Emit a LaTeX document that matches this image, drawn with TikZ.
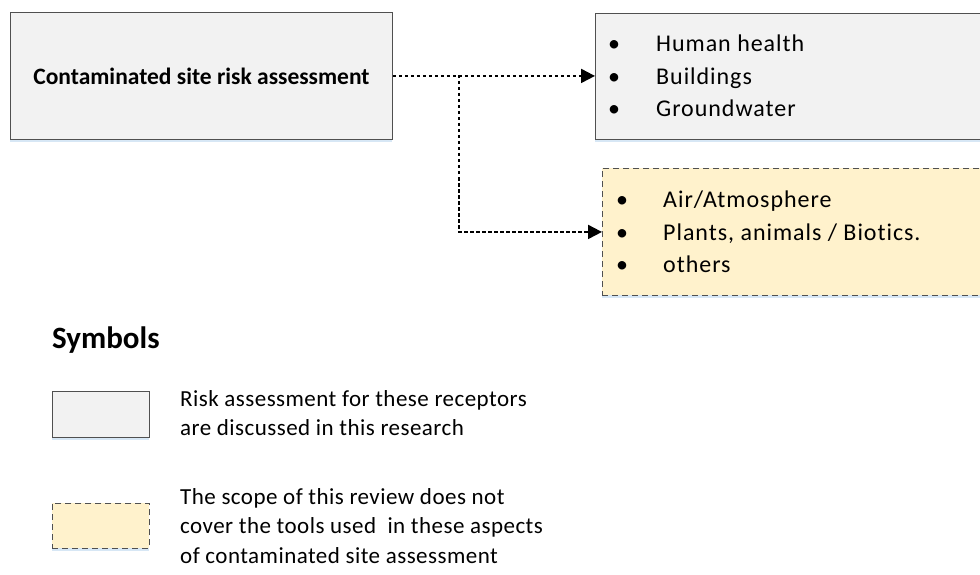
\documentclass[tikz,border=0pt]{standalone}
\usepackage{fontspec}
\setmainfont{Carlito}
\newfontfamily\spacedfont[LetterSpace=4,Ligatures={NoCommon}]{Carlito}
\newfontfamily\legfont[LetterSpace=2,Ligatures={NoCommon}]{Carlito}
\usetikzlibrary{arrows.meta,shadows}
\definecolor{boxgray}{HTML}{F2F2F2}
\definecolor{boxedge}{HTML}{505050}
\definecolor{boxyellow}{HTML}{FFF2CC}
\definecolor{shadowblue}{HTML}{BDD7EE}
\tikzset{
  gbox/.style={draw=boxedge, line width=0.9pt, fill=boxgray, inner sep=0pt,
    drop shadow={shadow xshift=0pt, shadow yshift=-3pt, fill=shadowblue, opacity=0.6}},
  ybox/.style={draw=boxedge, line width=0.9pt, fill=boxyellow, inner sep=0pt,
    dash pattern=on 6pt off 4pt,
    drop shadow={shadow xshift=0pt, shadow yshift=-3pt, fill=shadowblue, opacity=0.6}},
  conn/.style={line width=2pt, dash pattern=on 3.5pt off 2.5pt,
    -{Triangle[length=14pt,width=14pt]}},
  listtxt/.style={anchor=west, inner sep=0pt, align=left,
    font=\fontsize{24}{32.5}\spacedfont},
  legtxt/.style={anchor=north west, inner sep=0pt, align=left,
    font=\fontsize{23}{29.5}\legfont},
}
\begin{document}
\begin{tikzpicture}[x=1pt,y=-1pt]
\useasboundingbox (0,0) rectangle (980,575);
\clip (0,0) rectangle (980,575);
% main box
\node[gbox, minimum width=382pt, minimum height=127pt, anchor=north west] (main) at (10,12) {};
\node[inner sep=0pt, font=\fontsize{23.5}{28}\selectfont\bfseries] (maintxt) at (main.center) {Contaminated site risk assessment};
% right gray box
\node[gbox, minimum width=400pt, minimum height=126pt, anchor=north west] (hr) at (595,13) {};
\node[listtxt] (hrl) at (606,76) {\makebox[50pt][l]{\hspace{2pt}•}Human health\\\makebox[50pt][l]{\hspace{2pt}•}Buildings\\\makebox[50pt][l]{\hspace{2pt}•}Groundwater};
% right yellow box
\node[ybox, minimum width=400pt, minimum height=127pt, anchor=north west] (or) at (602,168) {};
\node[listtxt] (orl) at (614,232) {\makebox[49pt][l]{\hspace{2pt}•}Air/Atmosphere\\\makebox[49pt][l]{\hspace{2pt}•}Plants, animals / Biotics.\\\makebox[49pt][l]{\hspace{2pt}•}others};
% connectors
\coordinate (br) at (459,75);
\draw[conn] (main.east) -- (hr.west |- main.east);
\draw[conn] (br) |- (or.west);
% legend
\node[anchor=west, inner sep=0pt, font=\fontsize{31}{36}\selectfont\bfseries] (sym) at (52,340) {Symbols};
\node[gbox, minimum width=97pt, minimum height=46pt, anchor=north west] (lg1) at (52,391) {};
\node[legtxt] (lt1) at (180,390) {Risk assessment for these receptors\\are discussed in this research};
\node[ybox, minimum width=97pt, minimum height=45pt, anchor=north west] (lg2) at (52,503) {};
\node[legtxt] (lt2) at (180,488) {The scope of this review does not\\cover the tools used\ \ in these aspects\\of contaminated site assessment};
\end{tikzpicture}
\end{document}
